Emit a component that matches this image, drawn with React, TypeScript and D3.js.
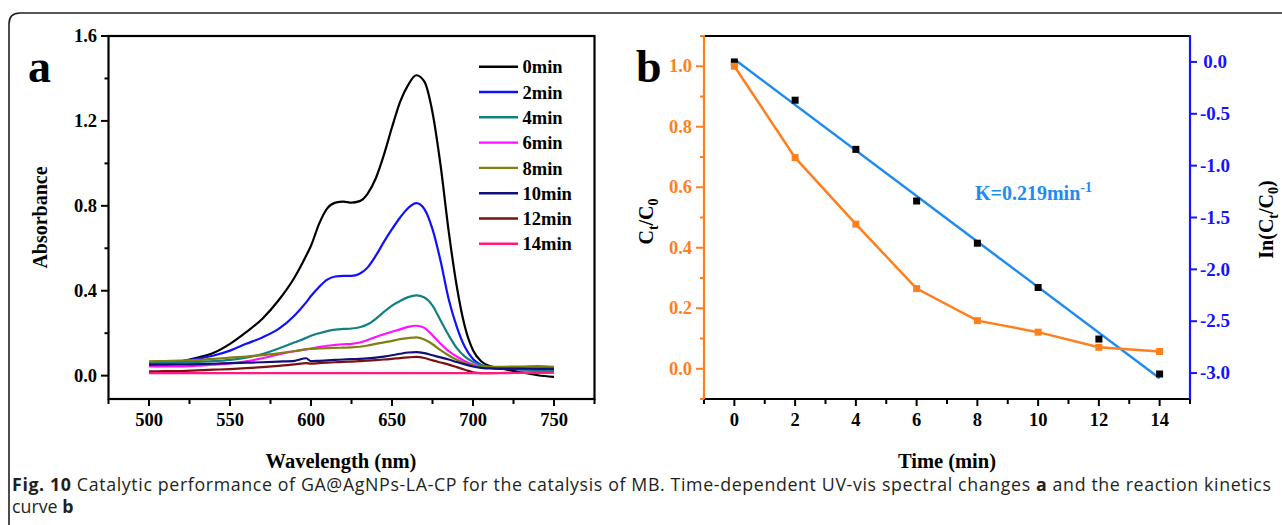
import React from "react";
import * as d3 from "d3";

// ---------- Panel a data (UV-vis spectra) ----------
const wavelengths = [500, 510, 520, 530, 540, 550, 560, 570, 580, 590, 597, 600, 605, 610, 615, 620, 625, 630, 635, 640, 645, 650, 655, 660, 665, 670, 675, 680, 685, 690, 695, 700, 705, 710, 720, 730, 740, 750];
const abs0min = [0.06, 0.062, 0.068, 0.085, 0.108, 0.15, 0.205, 0.268, 0.355, 0.465, 0.565, 0.612, 0.715, 0.788, 0.815, 0.82, 0.815, 0.822, 0.858, 0.93, 1.04, 1.17, 1.29, 1.37, 1.415, 1.385, 1.24, 0.99, 0.68, 0.42, 0.23, 0.12, 0.068, 0.046, 0.03, 0.015, 0.002, -0.006];
const abs2min = [0.052, 0.056, 0.066, 0.08, 0.095, 0.118, 0.15, 0.18, 0.22, 0.285, 0.345, 0.375, 0.418, 0.452, 0.467, 0.47, 0.47, 0.48, 0.51, 0.565, 0.63, 0.69, 0.745, 0.79, 0.813, 0.785, 0.69, 0.54, 0.36, 0.23, 0.135, 0.078, 0.05, 0.038, 0.032, 0.03, 0.028, 0.028];
const abs4min = [0.06, 0.06, 0.062, 0.065, 0.068, 0.074, 0.085, 0.102, 0.128, 0.157, 0.178, 0.188, 0.2, 0.21, 0.217, 0.22, 0.222, 0.228, 0.242, 0.268, 0.3, 0.33, 0.352, 0.37, 0.378, 0.368, 0.33, 0.26, 0.19, 0.13, 0.09, 0.065, 0.05, 0.042, 0.035, 0.03, 0.028, 0.026];
const abs6min = [0.044, 0.044, 0.044, 0.047, 0.052, 0.058, 0.068, 0.082, 0.1, 0.115, 0.123, 0.127, 0.134, 0.141, 0.145, 0.148, 0.15, 0.156, 0.168, 0.182, 0.195, 0.207, 0.218, 0.23, 0.235, 0.225, 0.19, 0.15, 0.115, 0.09, 0.068, 0.052, 0.042, 0.038, 0.036, 0.035, 0.035, 0.035];
const abs8min = [0.067, 0.069, 0.071, 0.074, 0.079, 0.085, 0.09, 0.097, 0.105, 0.116, 0.125, 0.126, 0.128, 0.13, 0.131, 0.132, 0.133, 0.136, 0.142, 0.15, 0.157, 0.164, 0.172, 0.177, 0.18, 0.17, 0.148, 0.12, 0.095, 0.075, 0.058, 0.048, 0.043, 0.042, 0.042, 0.043, 0.045, 0.042];
const abs10min = [0.052, 0.052, 0.053, 0.054, 0.056, 0.059, 0.061, 0.063, 0.066, 0.07, 0.082, 0.068, 0.07, 0.072, 0.074, 0.076, 0.078, 0.079, 0.081, 0.085, 0.09, 0.096, 0.103, 0.109, 0.111, 0.106, 0.096, 0.086, 0.076, 0.064, 0.053, 0.043, 0.037, 0.034, 0.033, 0.033, 0.032, 0.032];
const abs12min = [0.02, 0.021, 0.022, 0.025, 0.028, 0.031, 0.035, 0.04, 0.046, 0.053, 0.059, 0.057, 0.059, 0.061, 0.063, 0.065, 0.066, 0.068, 0.071, 0.073, 0.076, 0.079, 0.083, 0.086, 0.088, 0.083, 0.072, 0.062, 0.052, 0.04, 0.028, 0.016, 0.012, 0.012, 0.013, 0.014, 0.015, 0.016];
const abs14min = [0.012, 0.012, 0.012, 0.012, 0.012, 0.012, 0.012, 0.012, 0.012, 0.012, 0.012, 0.012, 0.012, 0.012, 0.012, 0.012, 0.012, 0.012, 0.012, 0.012, 0.012, 0.012, 0.012, 0.012, 0.012, 0.012, 0.012, 0.012, 0.012, 0.012, 0.012, 0.012, 0.012, 0.012, 0.012, 0.013, 0.013, 0.014];
const seriesLabels = ["0min", "2min", "4min", "6min", "8min", "10min", "12min", "14min"];
const seriesColors = ["#000000", "#1010ff", "#138080", "#ff10ff", "#808010", "#10107a", "#7a1010", "#ff1a80"];
const spectra = [abs0min, abs2min, abs4min, abs6min, abs8min, abs10min, abs12min, abs14min];

const aXMajor = [500, 550, 600, 650, 700, 750];
const aXMinor = [475, 525, 575, 625, 675, 725, 775];
const aYMajor = [0.0, 0.4, 0.8, 1.2, 1.6];
const aYMinor = [0.2, 0.6, 1.0, 1.4];

// ---------- Panel b data (kinetics) ----------
const timePoints = [0, 2, 4, 6, 8, 10, 12, 14];
const ctOverC0 = [1.0, 0.698, 0.478, 0.265, 0.159, 0.121, 0.071, 0.057];
const lnCtC0 = [0.0, -0.369, -0.843, -1.341, -1.748, -2.175, -2.672, -3.009];
const fitTimes = [0, 14];
const fitValues = [0.025, -3.05];

const bXMajor = [0, 2, 4, 6, 8, 10, 12, 14];
const bXMinor = [-1, 1, 3, 5, 7, 9, 11, 13, 15];
const bYMajor = [0.0, 0.2, 0.4, 0.6, 0.8, 1.0];
const bYMinor = [-0.1, 0.1, 0.3, 0.5, 0.7, 0.9, 1.1];
const bY2Major = [0.0, -0.5, -1.0, -1.5, -2.0, -2.5, -3.0];

const SERIF = "'Liberation Serif', 'Times New Roman', serif";
const SANS = "'Open Sans', 'Noto Sans', sans-serif";
const ORANGE = "#ff7f1e";
const AXBLUE = "#1414ff";
const FITBLUE = "#1e8cf0";

export default function App() {
  const xA = d3.scaleLinear().domain([475, 775]).range([108.5, 594.5]);
  const yA = d3.scaleLinear().domain([-0.11, 1.6]).range([399, 36]);
  const xB = d3.scaleLinear().domain([-1, 15]).range([704, 1190]);
  const yB = d3.scaleLinear().domain([-0.1, 1.1]).range([399, 36]);
  const yB2 = d3.scaleLinear().domain([-3.25, 0.25]).range([399, 36]);

  const specLine = d3
    .line<number>()
    .x((_, i) => xA(wavelengths[i]))
    .y((d) => yA(d))
    .curve(d3.curveMonotoneX);

  const ctLine = d3
    .line<number>()
    .x((_, i) => xB(timePoints[i]))
    .y((d) => yB(d));
  const fitLine = d3
    .line<number>()
    .x((_, i) => xB(fitTimes[i]))
    .y((d) => yB2(d));

  const tickFont = { fontFamily: SERIF, fontWeight: 700, fontSize: 18.5 } as const;
  const legendX0 = 479;
  const legendX1 = 518;
  const legendY0 = 66.7;
  const legendStep = 25.3;

  return (
    <svg
      width={1282}
      height={525}
      style={{ position: "absolute", left: 0, top: 0, background: "#fff" }}
    >
      <rect x={0} y={0} width={1282} height={525} fill="#fff" />
      {/* outer rounded border */}
      <path d="M 9 526 L 9 24 Q 9 13 20 13 L 1283 13" fill="none" stroke="#231f20" strokeWidth={1.6} />

      {/* ================= Panel a ================= */}
      <text x={28} y={82} fontFamily={SERIF} fontWeight={700} fontSize={46}>a</text>
      <g>
        {spectra.map((s, k) => (
          <path key={k} d={specLine(s) || ""} fill="none" stroke={seriesColors[k]} strokeWidth={2.2} strokeLinejoin="round" />
        ))}
      </g>
      <rect x={xA(475)} y={36} width={xA(775) - xA(475)} height={363} fill="none" stroke="#000" strokeWidth={2.2} />
      {aXMajor.map((v) => (
        <g key={"axM" + v}>
          <line x1={xA(v)} x2={xA(v)} y1={399} y2={406} stroke="#000" strokeWidth={2} />
          <text x={xA(v)} y={426} textAnchor="middle" {...tickFont}>{v}</text>
        </g>
      ))}
      {aXMinor.map((v) => (
        <line key={"axm" + v} x1={xA(v)} x2={xA(v)} y1={399} y2={404} stroke="#000" strokeWidth={2} />
      ))}
      {aYMajor.map((v) => (
        <g key={"ayM" + v}>
          <line x1={101} x2={108.5} y1={yA(v)} y2={yA(v)} stroke="#000" strokeWidth={2} />
          <text x={97} y={yA(v)} dy="0.33em" textAnchor="end" {...tickFont}>{v.toFixed(1)}</text>
        </g>
      ))}
      {aYMinor.map((v) => (
        <line key={"aym" + v} x1={104.5} x2={108.5} y1={yA(v)} y2={yA(v)} stroke="#000" strokeWidth={2} />
      ))}
      <text
        transform={`translate(40,${(36 + 399) / 2}) rotate(-90)`}
        dy="0.35em"
        textAnchor="middle"
        fontFamily={SERIF}
        fontWeight={700}
        fontSize={20}
      >
        Absorbance
      </text>
      <text x={341} y={468} textAnchor="middle" fontFamily={SERIF} fontWeight={700} fontSize={20.5}>
        Wavelength (nm)
      </text>
      {/* legend */}
      {seriesLabels.map((lab, k) => (
        <g key={"lg" + k}>
          <line
            x1={legendX0}
            x2={legendX1}
            y1={legendY0 + k * legendStep}
            y2={legendY0 + k * legendStep}
            stroke={seriesColors[k]}
            strokeWidth={2.4}
          />
          <text x={522.5} y={legendY0 + k * legendStep + 6.6} fontFamily={SERIF} fontWeight={700} fontSize={18.5}>
            {lab}
          </text>
        </g>
      ))}

      {/* ================= Panel b ================= */}
      <text x={636} y={82} fontFamily={SERIF} fontWeight={700} fontSize={46}>b</text>

      {/* fit line and ln points */}
      <path d={fitLine(fitValues) || ""} fill="none" stroke={FITBLUE} strokeWidth={2.5} />
      {lnCtC0.map((v, i) => (
        <rect key={"ln" + i} x={xB(timePoints[i]) - 3.5} y={yB2(v) - 3.5} width={7} height={7} fill="#000" />
      ))}
      {/* Ct/C0 line and points */}
      <path d={ctLine(ctOverC0) || ""} fill="none" stroke={ORANGE} strokeWidth={2.5} />
      {ctOverC0.map((v, i) => (
        <rect key={"ct" + i} x={xB(timePoints[i]) - 3.5} y={yB(v) - 3.5} width={7} height={7} fill={ORANGE} />
      ))}

      {/* frame */}
      <line x1={xB(-1)} x2={xB(15)} y1={36} y2={36} stroke="#000" strokeWidth={2.2} />
      <line x1={xB(-1)} x2={xB(15)} y1={399} y2={399} stroke="#000" strokeWidth={2.2} />
      <line x1={xB(-1)} x2={xB(-1)} y1={35} y2={400} stroke={ORANGE} strokeWidth={2.2} />
      <line x1={xB(15)} x2={xB(15)} y1={35} y2={400} stroke={AXBLUE} strokeWidth={2.2} />

      {bXMajor.map((v) => (
        <g key={"bxM" + v}>
          <line x1={xB(v)} x2={xB(v)} y1={399} y2={406} stroke="#000" strokeWidth={2} />
          <text x={xB(v)} y={426} textAnchor="middle" {...tickFont}>{v}</text>
        </g>
      ))}
      {bXMinor.map((v) => (
        <line key={"bxm" + v} x1={xB(v)} x2={xB(v)} y1={399} y2={404} stroke="#000" strokeWidth={2} />
      ))}
      {bYMajor.map((v) => (
        <g key={"byM" + v}>
          <line x1={696} x2={704} y1={yB(v)} y2={yB(v)} stroke={ORANGE} strokeWidth={2} />
          <text x={692} y={yB(v)} dy="0.33em" textAnchor="end" {...tickFont} fill={ORANGE}>{v.toFixed(1)}</text>
        </g>
      ))}
      {bYMinor.map((v) => (
        <line key={"bym" + v} x1={700} x2={704} y1={yB(v)} y2={yB(v)} stroke={ORANGE} strokeWidth={2} />
      ))}
      {bY2Major.map((v) => (
        <g key={"by2M" + v}>
          <line x1={1190} x2={1197} y1={yB2(v)} y2={yB2(v)} stroke={AXBLUE} strokeWidth={2} />
          <text x={v === 0 ? 1227 : 1230} y={yB2(v)} dy="0.33em" textAnchor="end" fontFamily={SERIF} fontWeight={700} fontSize={19} fill={AXBLUE}>
            {v.toFixed(1)}
          </text>
        </g>
      ))}

      <text x={975} y={200} fontFamily={SERIF} fontWeight={700} fontSize={20} fill={FITBLUE}>
        K=0.219min<tspan dy={-8} fontSize={14}>-1</tspan>
      </text>

      <text
        transform={`translate(646,${(36 + 399) / 2 + 4}) rotate(-90)`}
        dy="0.35em"
        textAnchor="middle"
        fontFamily={SERIF}
        fontWeight={700}
        fontSize={20}
      >
        C<tspan fontSize={14} dy={5}>t</tspan>
        <tspan dy={-5}>/C</tspan>
        <tspan fontSize={14} dy={5}>0</tspan>
      </text>
      <text
        transform={`translate(1266,${(36 + 399) / 2 + 2}) rotate(-90)`}
        dy="0.35em"
        textAnchor="middle"
        fontFamily={SERIF}
        fontWeight={700}
        fontSize={20}
      >
        In(C<tspan fontSize={14} dy={5}>t</tspan>
        <tspan dy={-5}>/C</tspan>
        <tspan fontSize={14} dy={5}>0</tspan>
        <tspan dy={-5}>)</tspan>
      </text>
      <text x={xB(7)} y={468} textAnchor="middle" fontFamily={SERIF} fontWeight={700} fontSize={20.5}>
        Time (min)
      </text>

      {/* ================= Caption ================= */}
      <text x={12} y={491} fontFamily={SANS} fontSize={17.8} fill="#231f20" textLength={1259} lengthAdjust="spacing">
        <tspan fontWeight={700}>Fig. 10</tspan> Catalytic performance of GA@AgNPs-LA-CP for the catalysis of MB. Time-dependent UV-vis spectral changes <tspan fontWeight={700}>a</tspan> and the reaction kinetics
      </text>
      <text x={12} y={513} fontFamily={SANS} fontSize={17.8} fill="#231f20">
        curve <tspan fontWeight={700}>b</tspan>
      </text>
    </svg>
  );
}
